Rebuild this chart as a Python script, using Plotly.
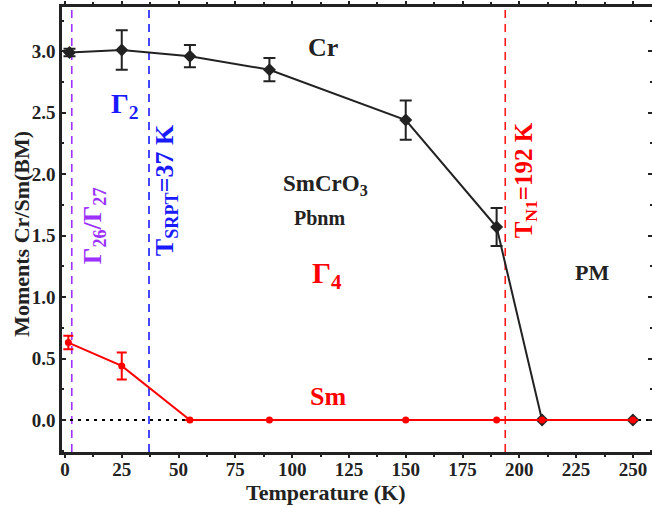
import plotly.graph_objects as go

# ---- data ----
temp_cr = [2, 25, 55, 90, 150, 190, 210, 250]
mom_cr = [2.99, 3.01, 2.96, 2.85, 2.44, 1.57, 0.0, 0.0]
err_cr = [0.03, 0.16, 0.09, 0.095, 0.16, 0.155, 0.0, 0.0]

temp_sm = [1.5, 25, 55, 90, 150, 190, 210, 250]
mom_sm = [0.63, 0.44, 0.0, 0.0, 0.0, 0.0, 0.0, 0.0]
err_sm = [0.055, 0.11, 0.0, 0.0, 0.0, 0.0, 0.0, 0.0]

vline_x = [3, 37, 193.8]
vline_colors = ["#9b30ff", "#1a1aff", "#ff1a1a"]

x_ticks = [0, 25, 50, 75, 100, 125, 150, 175, 200, 225, 250]
y_ticks = [0.0, 0.5, 1.0, 1.5, 2.0, 2.5, 3.0]

FONT = "Liberation Serif"
INK = "#222222"

fig = go.Figure()

# vertical dashed lines
for xv, c in zip(vline_x, vline_colors):
    fig.add_shape(type="line", xref="x", yref="paper", x0=xv, x1=xv, y0=0, y1=1,
                  line=dict(color=c, width=1.6, dash="8px,6px"), layer="below")
# zero dotted line
fig.add_shape(type="line", xref="paper", yref="y", x0=0, x1=1, y0=0, y1=0,
              line=dict(color="black", width=2, dash="3px,5px"), layer="below")

fig.add_trace(go.Scatter(
    x=temp_cr, y=mom_cr, mode="lines+markers",
    line=dict(color=INK, width=2),
    marker=dict(symbol="diamond", size=10, color=INK),
    error_y=dict(type="data", array=err_cr, visible=True, color=INK, thickness=2, width=6),
    showlegend=False))

fig.add_trace(go.Scatter(
    x=temp_sm, y=mom_sm, mode="lines+markers",
    line=dict(color="#ff0000", width=2),
    marker=dict(symbol="circle", size=7, color="#ff0000"),
    error_y=dict(type="data", array=err_sm, visible=True, color="#ff0000", thickness=2, width=5),
    showlegend=False))

def ann(text, x, y, color, size, angle=0):
    fig.add_annotation(x=x, y=y, xref="x", yref="y", text="<b>" + text + "</b>", showarrow=False,
                       textangle=angle,
                       font=dict(family=FONT, size=size, color=color))

ann("Cr", 113.5, 3.03, INK, 26)
ann("Γ<sub>2</sub>", 26.5, 2.56, "#1a1aff", 28)
ann("Γ<sub>26</sub>/Γ<sub>27</sub>", 12.5, 1.58, "#9b30ff", 26, -90)
ann("T<sub>SRPT</sub>=37 K", 44.5, 1.87, "#1a1aff", 26, -90)
ann("SmCrO<sub>3</sub>", 114.5, 1.91, INK, 23)
ann("Pbnm", 112, 1.64, INK, 20)
ann("Γ<sub>4</sub>", 115.5, 1.18, "#ff0000", 30)
ann("T<sub>N1</sub>=192 K", 202.5, 1.95, "#ff0000", 25, -90)
ann("PM", 232, 1.2, INK, 22)
ann("Sm", 116, 0.19, "#ff0000", 26)

# axis titles as paper annotations for exact placement
fig.add_annotation(x=0.446, y=-0.092, xref="paper", yref="paper", showarrow=False,
                   text="<b>Temperature (K)</b>", xanchor="center", yanchor="middle",
                   font=dict(family=FONT, size=22, color=INK))
fig.add_annotation(x=-0.068, y=0.49, xref="paper", yref="paper", showarrow=False,
                   text="<b>Moments Cr/Sm(BM)</b>", textangle=-90,
                   xanchor="center", yanchor="middle",
                   font=dict(family=FONT, size=22, color=INK))

axis_common = dict(
    showline=True, linecolor=INK, linewidth=2.5, mirror="allticks",
    tickwidth=2, tickcolor=INK,
    showgrid=False, zeroline=False, automargin=False,
    tickfont=dict(family=FONT, size=19, color=INK),
)

fig.update_xaxes(
    range=[-1.3, 258.4], tickvals=x_ticks, ticktext=["<b>%d</b>" % v for v in x_ticks],
    ticks="outside", ticklen=3, ticklabelstandoff=-5,
    minor=dict(ticks="outside", ticklen=2, tickwidth=1.5, tickcolor=INK, dtick=12.5, tick0=0),
    **axis_common)
fig.update_yaxes(
    range=[-0.26, 3.36], tickvals=y_ticks, ticktext=["<b>%.1f</b>" % v for v in y_ticks],
    ticks="inside", ticklen=4,
    minor=dict(ticks="inside", ticklen=2, tickwidth=1.5, tickcolor=INK, dtick=0.25, tick0=0),
    **axis_common)

fig.update_layout(
    width=652, height=508,
    margin=dict(l=62, r=0, t=7, b=56),
    plot_bgcolor="white", paper_bgcolor="white",
)

fig.write_html(
    "out.html",
    config={"displayModeBar": False},
    post_script="document.body.style.margin='0';document.body.style.padding='0';"
                "document.body.style.overflow='hidden';",
)
